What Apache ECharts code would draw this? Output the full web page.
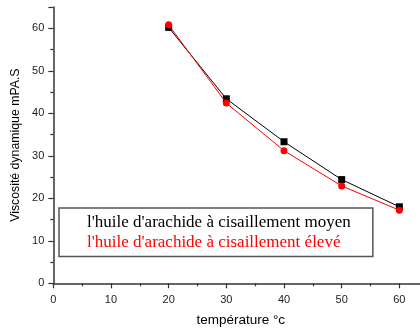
<!DOCTYPE html>
<html><head><meta charset="utf-8">
<script src="https://cdn.jsdelivr.net/npm/echarts@6/dist/echarts.min.js"></script>
<style>html,body{margin:0;padding:0;background:#fff;overflow:hidden}#c{width:420px;height:331px}</style>
</head><body><div id="c"></div>
<script>
const temperatures = [20, 30, 40, 50, 60];
const viscMoyen = [60.2, 43.4, 33.3, 24.4, 18.0];
const viscEleve = [60.8, 42.4, 31.2, 22.9, 17.2];
const nameMoyen = "l'huile d'arachide à cisaillement moyen";
const nameEleve = "l'huile d'arachide à cisaillement élevé";
const xTitle = "température °c";
const yTitle = "Viscosité dynamique mPA.S";

const chart = echarts.init(document.getElementById('c'), null, {renderer: 'canvas'});
const axisCol = '#333';
chart.setOption({
  animation: false,
  backgroundColor: '#fff',
  grid: {left: 53.3, top: 7, width: 374.9, height: 276.3, containLabel: false, outerBoundsMode: 'none'},
  xAxis: {
    type: 'value', min: 0, max: 65, interval: 10,
    name: xTitle, nameLocation: 'middle', nameGap: 30,
    nameTextStyle: {fontFamily: 'Liberation Sans', fontSize: 13.5, color: '#000'},
    axisLine: {onZero: false, lineStyle: {color: axisCol, width: 1.5}},
    axisTick: {show: true, inside: false, length: 5, lineStyle: {color: axisCol, width: 1.2}},
    minorTick: {show: true, splitNumber: 2, length: 3, lineStyle: {color: axisCol, width: 1.2}},
    axisLabel: {fontFamily: 'Liberation Sans', fontSize: 11, color: '#222', margin: 11, showMaxLabel: false,
      formatter: v => (v % 10 === 0 ? String(v) : '')},
    splitLine: {show: false}
  },
  yAxis: {
    type: 'value', min: 0, max: 65, interval: 10,
    name: yTitle, nameLocation: 'middle', nameGap: 26,
    nameTextStyle: {fontFamily: 'Liberation Sans', fontSize: 12.3, color: '#000'},
    axisLine: {onZero: false, lineStyle: {color: axisCol, width: 1.5}},
    axisTick: {show: true, inside: false, length: 5, lineStyle: {color: axisCol, width: 1.2}},
    minorTick: {show: true, splitNumber: 2, length: 3, lineStyle: {color: axisCol, width: 1.2}},
    axisLabel: {fontFamily: 'Liberation Sans', fontSize: 11, color: '#222', margin: 9, showMaxLabel: false,
      formatter: v => (v % 10 === 0 ? String(v) : '')},
    splitLine: {show: false}
  },
  legend: {
    orient: 'vertical', left: 59, top: 208,
    icon: 'none', itemWidth: 0, itemHeight: 14, itemGap: 3.5,
    padding: [6, 22, 5, 23],
    borderColor: '#555', borderWidth: 1.5,
    selectedMode: false,
    textStyle: {fontFamily: 'Liberation Serif', fontSize: 17},
    data: [
      {name: nameMoyen, textStyle: {color: '#000'}},
      {name: nameEleve, textStyle: {color: '#ff0000'}}
    ]
  },
  series: [
    {name: nameMoyen, type: 'line', data: temperatures.map((t,i)=>[t, viscMoyen[i]]),
     symbol: 'rect', symbolSize: 7, lineStyle: {color: '#000', width: 1},
     itemStyle: {color: '#000'}, z: 2},
    {name: nameEleve, type: 'line', data: temperatures.map((t,i)=>[t, viscEleve[i]]),
     symbol: 'circle', symbolSize: 7, lineStyle: {color: '#ff0000', width: 1},
     itemStyle: {color: '#ff0000'}, z: 3}
  ]
});
</script></body></html>
